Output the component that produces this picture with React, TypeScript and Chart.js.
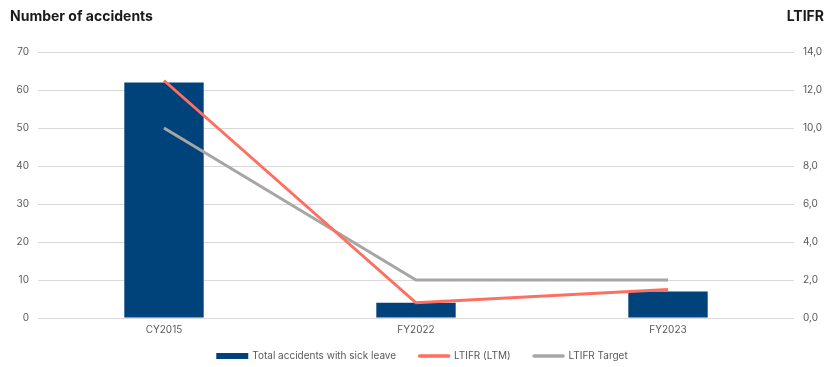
import React, { useEffect, useRef } from "react";
import { Chart, registerables } from "chart.js";

Chart.register(...registerables);

const categories = ["CY2015", "FY2022", "FY2023"];
const totalAccidents = [62, 4, 7];
const ltifrLtm = [12.5, 0.8, 1.5];
const ltifrTarget = [10.0, 2.0, 2.0];

const BLUE = "#00427a";
const RED = "#ff6f61";
const GRAY = "#a6a6a6";
const TICK = "#595959";
const FONT = "Inter, 'Noto Sans', sans-serif";

const axisTitles = {
  id: "axisTitles",
  afterDraw(chart: Chart) {
    const { ctx } = chart;
    ctx.save();
    ctx.fillStyle = "#1a1a1a";
    ctx.font = `bold 14px ${FONT}`;
    ctx.textBaseline = "middle";
    ctx.textAlign = "left";
    ctx.fillText("Number of accidents", 10, 17);
    ctx.textAlign = "right";
    ctx.fillText("LTIFR", 824, 17);
    ctx.restore();
  },
};

// Legend row under the axis: a filled box for the bars, a thick stroke for each line
const bottomLegend = {
  id: "bottomLegend",
  afterDraw(chart: Chart) {
    const { ctx } = chart;
    const y = 356;
    const swatch = 32;
    const gapText = 4;
    const gapItem = 22;
    ctx.save();
    ctx.font = `10px ${FONT}`;
    ctx.textBaseline = "middle";
    ctx.textAlign = "left";
    const items = chart.data.datasets.map((d: any) => ({
      label: d.label as string,
      color: d.borderColor as string,
      isBar: d.type === "bar",
      w: ctx.measureText(d.label).width,
    }));
    const total =
      items.reduce((s, it) => s + swatch + gapText + it.w, 0) + gapItem * (items.length - 1);
    let x = 422 - total / 2;
    items.forEach((it) => {
      ctx.fillStyle = it.color;
      if (it.isBar) {
        ctx.fillRect(x, y - 3, swatch, 6);
      } else {
        ctx.strokeStyle = it.color;
        ctx.lineWidth = 3.5;
        ctx.lineCap = "round";
        ctx.beginPath();
        ctx.moveTo(x + 1.5, y);
        ctx.lineTo(x + swatch - 1.5, y);
        ctx.stroke();
      }
      x += swatch + gapText;
      ctx.fillStyle = TICK;
      ctx.fillText(it.label, x, y);
      x += it.w + gapItem;
    });
    ctx.restore();
  },
};

export default function App() {
  const ref = useRef<HTMLCanvasElement>(null);

  useEffect(() => {
    if (!ref.current) return;
    const chart = new Chart(ref.current, {
      data: {
        labels: categories,
        datasets: [
          {
            type: "bar",
            label: "Total accidents with sick leave",
            data: totalAccidents,
            backgroundColor: BLUE,
            borderColor: BLUE,
            yAxisID: "y",
            categoryPercentage: 1,
            barPercentage: 0.315,
            order: 2,
          },
          {
            type: "line",
            label: "LTIFR (LTM)",
            data: ltifrLtm,
            borderColor: RED,
            backgroundColor: RED,
            borderWidth: 3,
            pointRadius: 0,
            yAxisID: "y1",
            order: 1,
          },
          {
            type: "line",
            label: "LTIFR Target",
            data: ltifrTarget,
            borderColor: GRAY,
            backgroundColor: GRAY,
            borderWidth: 3,
            pointRadius: 0,
            yAxisID: "y1",
            order: 1,
          },
        ],
      },
      options: {
        animation: false,
        responsive: true,
        maintainAspectRatio: false,
        layout: { padding: { top: 52, left: 0, right: 0, bottom: 25 } },
        plugins: {
          tooltip: { enabled: false },
          legend: { display: false },
        },
        scales: {
          x: {
            offset: true,
            grid: { display: false, drawTicks: false },
            border: { display: false },
            ticks: { color: TICK, font: { family: FONT, size: 10 }, padding: 6 },
          },
          y: {
            position: "left",
            min: 0,
            max: 70,
            ticks: {
              stepSize: 10,
              color: TICK,
              font: { family: FONT, size: 10 },
              padding: 9,
            },
            grid: { color: "#d9d9d9", drawTicks: false },
            border: { display: false },
            afterFit(s: any) {
              s.width = 38;
            },
          },
          y1: {
            position: "right",
            min: 0,
            max: 14,
            ticks: {
              stepSize: 2,
              color: TICK,
              font: { family: FONT, size: 10 },
              padding: 9,
              callback: (v: any) => Number(v).toFixed(1).replace(".", ","),
            },
            grid: { drawOnChartArea: false, drawTicks: false },
            border: { display: false },
            afterFit(s: any) {
              s.width = 34;
            },
          },
        },
      },
      plugins: [axisTitles, bottomLegend],
    } as any);
    return () => chart.destroy();
  }, []);

  return (
    <div style={{ position: "fixed", left: 0, top: 0, width: 828, height: 367, background: "#fff" }}>
      <canvas ref={ref} />
    </div>
  );
}
